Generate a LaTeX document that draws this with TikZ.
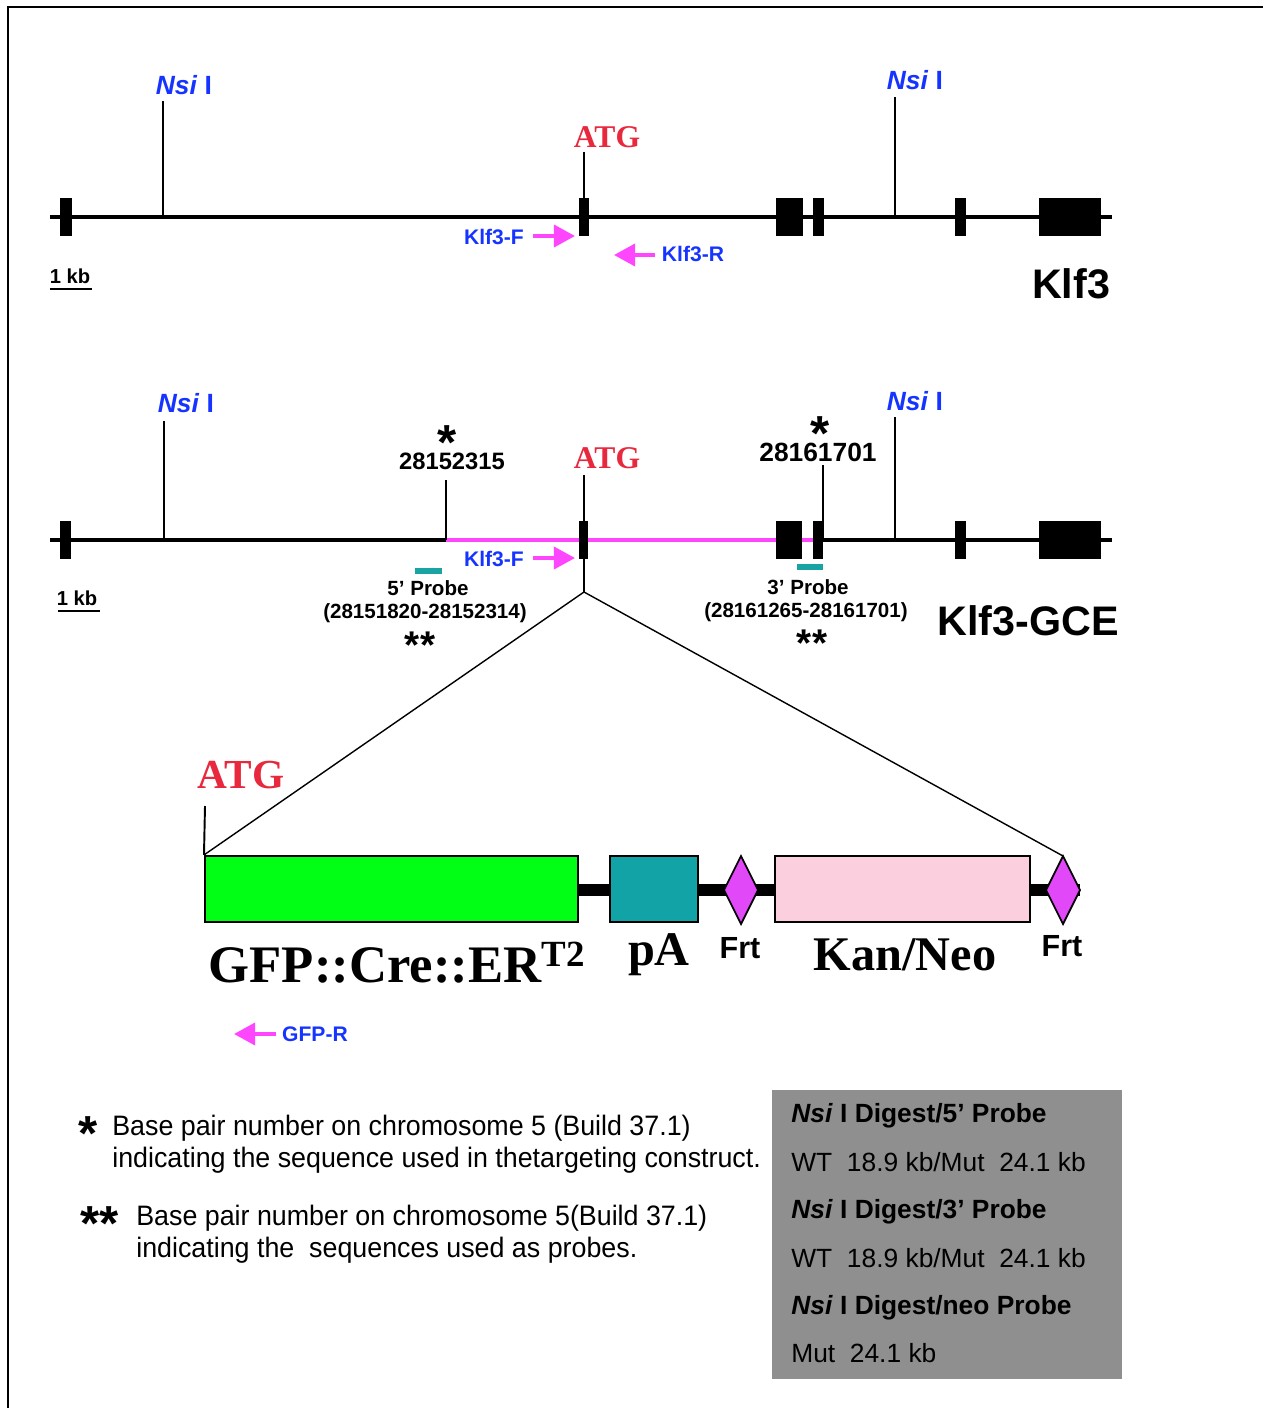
\documentclass[tikz,border=0pt]{standalone}
\usepackage{fontspec}
\setmainfont{Liberation Sans}
\newfontfamily\timesfont{Liberation Serif}
\newfontfamily\narrowfont[FakeStretch=0.954]{Liberation Sans}
\usepackage{xcolor}
\definecolor{nsiblue}{RGB}{22, 52, 255}
\definecolor{atgred}{RGB}{232, 40, 60}
\definecolor{primermag}{RGB}{255, 70, 255}
\definecolor{probeteal}{RGB}{26, 163, 163}
\definecolor{gfpgreen}{RGB}{0, 255, 20}
\definecolor{pateal}{RGB}{18, 163, 166}
\definecolor{kanpink}{RGB}{252, 207, 223}
\definecolor{frtviolet}{RGB}{224, 72, 248}
\definecolor{boxgray}{RGB}{143, 143, 143}
\usetikzlibrary{shapes.geometric,arrows.meta,positioning}

% asterisk boxed tightly round its glyph
\newcommand{\asterisks}[1]{\raisebox{-0.4em}[0.33em][0pt]{#1}}

\tikzset{
  locus/.style={line width=2.8pt},
  site/.style={line width=1.1pt},
  exon/.style={fill=black},
  nsilabel/.style={text=nsiblue, font=\bfseries\fontsize{15}{18}\selectfont},
  atglabel/.style={text=atgred, font=\timesfont\bfseries\fontsize{18}{20}\selectfont},
  primer/.style={primermag, line width=2.2pt, -{Triangle[length=12pt,width=12.5pt]}},
  primerlabel/.style={text=nsiblue, font=\bfseries\fontsize{12}{14}\selectfont},
  scalelabel/.style={font=\bfseries\fontsize{11.5}{13}\selectfont},
  genelabel/.style={font=\bfseries\fontsize{23.5}{26}\selectfont},
  bplabel/.style={font=\bfseries\fontsize{13.5}{16}\selectfont},
  probelabel/.style={font=\bfseries\fontsize{11.7}{14}\selectfont},
  star/.style={font=\bfseries\fontsize{28}{30}\selectfont, inner sep=0pt, anchor=north},
  smallstar/.style={font=\bfseries\fontsize{22}{24}\selectfont, inner sep=0pt, anchor=north},
  cassette/.style={draw=black, line width=1.2pt, inner sep=0pt},
  frt/.style={draw=black, line width=1pt, fill=frtviolet},
  partlabel/.style={font=\timesfont\bfseries\fontsize{27.5}{30}\selectfont},
  frtlabel/.style={font=\bfseries\fontsize{17.4}{20}\selectfont},
  notetext/.style={anchor=west, inner sep=0pt, align=left, font=\narrowfont\fontsize{16}{18.1}\selectfont},
  digest/.style={anchor=west, inner sep=0pt, font=\fontsize{15}{18}\selectfont},
}

\begin{document}
\begin{tikzpicture}[x=0.02cm, y=-0.02cm]
    \useasboundingbox (0,0) rectangle (1263,1408);
    % Frame
    \draw[line width=1.2pt] (8,1408) -- (8,7) -- (1263,7);

    % Wild-type Klf3 locus
    \draw[locus] (50,217) -- (1112,217);
    \foreach \a/\b in {60/72, 579/589, 776/803, 813/824, 955/966, 1039/1101}
        \fill[exon] (\a,198) rectangle (\b,236);
    \draw[site] (163,101) -- (163,217);
    \draw[site] (895,97) -- (895,217);
    \draw[site] (584,152) -- (584,198);
    \node[nsilabel] (nsiA) at (184,85) {\textit{Nsi} I};
    \node[nsilabel] (nsiB) at (915,80) {\textit{Nsi} I};
    \node[atglabel] (atgA) at (607,137) {ATG};
    \coordinate (fA1) at (533,236);
    \coordinate (fA2) at (575,236);
    \draw[primer] (fA1) -- (fA2);
    \node[primerlabel] (klfFA) at (494,237) {Klf3-F};
    \coordinate (rA1) at (655,255);
    \coordinate (rA2) at (614,255);
    \draw[primer] (rA1) -- (rA2);
    \node[primerlabel] (klfRA) at (693,254) {Klf3-R};
    \node[scalelabel] (kbA) at (70,276) {1 kb};
    \draw[line width=1.2pt] (50,289) -- (92,289);
    \node[genelabel] (klf3) at (1071,284) {Klf3};

    % Targeted Klf3-GCE locus
    \draw[locus] (50,540) -- (1112,540);
    \draw[locus, primermag] (446,540) -- (813,540);
    \foreach \a/\b in {60/71, 579/588, 776/802, 813/823, 955/966, 1039/1101}
        \fill[exon] (\a,521) rectangle (\b,559);
    \draw[site] (164,421) -- (164,540);
    \draw[site] (895,417) -- (895,540);
    \draw[site] (446,480) -- (446,540);
    \draw[site] (823,465) -- (823,540);
    \draw[site] (584,475) -- (584,521);
    \node[nsilabel] (nsiC) at (186,403) {\textit{Nsi} I};
    \node[nsilabel] (nsiD) at (915,401) {\textit{Nsi} I};
    \node[atglabel] (atgB) at (607,458) {ATG};
    \node[star] (starA) at (447,423) {\asterisks{*}};
    \node[bplabel] (bpA) at (452,461) {28152315};
    \node[star] (starB) at (820,414) {\asterisks{*}};
    \node[bplabel, font=\bfseries\fontsize{15}{18}\selectfont] (bpB) at (818,452) {28161701};
    \coordinate (fB1) at (533,558);
    \coordinate (fB2) at (575,558);
    \draw[primer] (fB1) -- (fB2);
    \node[primerlabel] (klfFB) at (494,559) {Klf3-F};
    % Probes
    \draw[probeteal, line width=3.4pt] (415,571) -- (442,571);
    \draw[probeteal, line width=3.4pt] (797,567) -- (823,567);
    \node[probelabel] (probeA) at (428,588) {5’ Probe};
    \node[probelabel] (probeAbp) at (425,613) {(28151820-28152314)};
    \node[smallstar] (starC) at (420,630) {\asterisks{**}};
    \node[probelabel] (probeB) at (808,587) {3’ Probe};
    \node[probelabel] (probeBbp) at (806,612) {(28161265-28161701)};
    \node[smallstar] (starD) at (812,628) {\asterisks{**}};
    \node[scalelabel] (kbB) at (77,598) {1 kb};
    \draw[line width=1.2pt] (58,611) -- (100,611);
    \node[genelabel] (klfgce) at (1028,621) {Klf3-GCE};

    % Inserted cassette
    \draw[line width=6.8pt] (578,890) -- (1080,890);
    \node[cassette, fill=gfpgreen, minimum width=7.46cm, minimum height=1.32cm] (gfp) at (391.5,889) {};
    \node[cassette, fill=pateal, minimum width=1.76cm, minimum height=1.32cm] (pa) at (654,889) {};
    \node[cassette, fill=kanpink, minimum width=5.1cm, minimum height=1.32cm] (kan) at (902.5,889) {};
    \draw[frt] (724,890) -- (741,856) -- (758,890) -- (741,924) -- cycle;
    \draw[frt] (1046,890) -- (1063,856) -- (1080,890) -- (1063,924) -- cycle;
    \coordinate (frtB) at (1063,856);
    \coordinate (split) at (584,592);
    \draw[line width=0.8pt] (584,559) -- (split);
    \draw[line width=0.8pt] (split) -- (gfp.north west);
    \draw[line width=0.8pt] (split) -- (frtB);
    \draw[site] (205,806) -- (gfp.north west);
    \node[atglabel, font=\timesfont\bfseries\fontsize{23.5}{26}\selectfont] (atgC) at (241,775) {ATG};
    \node[partlabel, font=\timesfont\bfseries\fontsize{30}{32}\selectfont] (gfplabel) at (397,963) {GFP::Cre::ER\textsuperscript{T2}};
    \node[partlabel] (palabel) at (659,955) {pA};
    \node[frtlabel] (frtA) at (740,948) {Frt};
    \node[partlabel] (kanlabel) at (905,955) {Kan/Neo};
    \node[frtlabel] (frtBlabel) at (1062,946) {Frt};
    \coordinate (gr1) at (276,1034);
    \coordinate (gr2) at (234,1034);
    \draw[primer] (gr1) -- (gr2);
    \node[primerlabel] (gfpR) at (315,1034) {GFP-R};

    % Footnotes
    \node[star, anchor=center] (noteA) at (88,1123) {\asterisks{*}};
    \node[notetext] (noteA1) at (112,1144) {Base pair number on chromosome 5 (Build 37.1)\\indicating the sequence used in thetargeting construct.};
    \node[star, anchor=center] (noteB) at (100,1213) {\asterisks{**}};
    \node[notetext] (noteB1) at (136,1234) {Base pair number on chromosome 5(Build 37.1)\\indicating the\ \ sequences used as probes.};

    % Southern digest summary
    \fill[boxgray] (772,1090) rectangle (1122,1379);
    \node[digest, font=\bfseries\fontsize{15}{18}\selectfont] (dA) at (791,1116) {\textit{Nsi} I Digest/5’ Probe};
    \node[digest] (dA1) at (791,1162) {WT\ \ 18.9 kb/Mut\ \ 24.1 kb};
    \node[digest, font=\bfseries\fontsize{15}{18}\selectfont] (dB) at (791,1212) {\textit{Nsi} I Digest/3’ Probe};
    \node[digest] (dB1) at (791,1258) {WT\ \ 18.9 kb/Mut\ \ 24.1 kb};
    \node[digest, font=\bfseries\fontsize{15}{18}\selectfont] (dC) at (791,1308) {\textit{Nsi} I Digest/neo Probe};
    \node[digest] (dC1) at (791,1353) {Mut\ \ 24.1 kb};
\end{tikzpicture}
\end{document}
